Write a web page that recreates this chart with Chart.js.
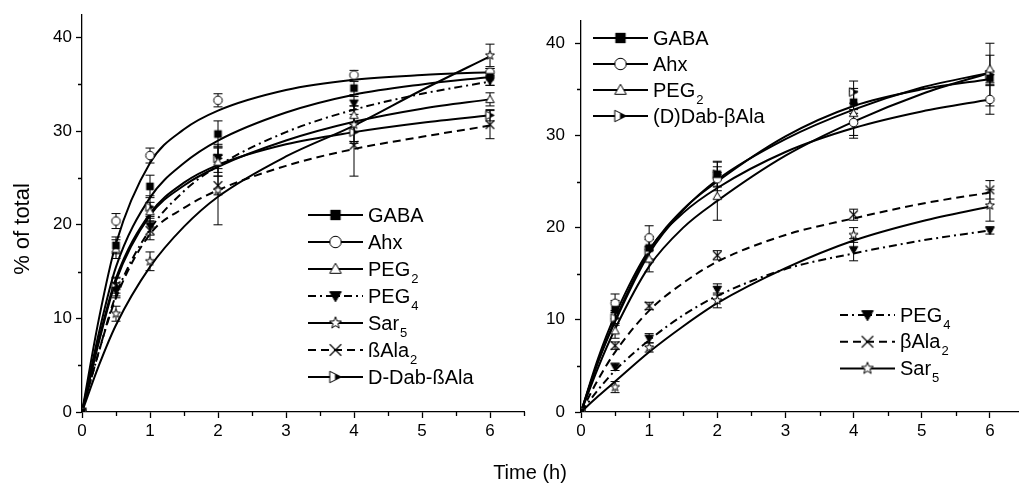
<!DOCTYPE html>
<html>
<head>
<meta charset="utf-8">
<script src="https://cdn.jsdelivr.net/npm/chart.js@4"></script>
<style>
  body { margin: 0; background: #fff; width: 1019px; height: 491px; overflow: hidden; position: relative; font-family: 'Liberation Sans', Arial, sans-serif; }
  #leftChart { position: absolute; left: 0; top: 0; }
  #rightChart { position: absolute; left: 520px; top: 0; }
  #xTitle { position: absolute; left: 480px; top: 460px; width: 100px; text-align: center; font-size: 20px; line-height: 24px; color: #000; }
</style>
</head>
<body>
<canvas id="leftChart" width="530" height="491"></canvas>
<canvas id="rightChart" width="510" height="491"></canvas>
<div id="xTitle">Time (h)</div>
<script>
// sampling times (h)
const times = [0, 0.5, 1, 2, 4, 6];
const fitTimes = [0, 0.25, 0.5, 1, 1.5, 2, 3, 4, 5, 6];
const xTickLabels = [0, 1, 2, 3, 4, 5, 6];
const yTickLabels = [0, 10, 20, 30, 40];

// --- left panel: measured means, errors, fitted curves ---
const leftGABA = [0, 17.8, 24.1, 29.7, 34.6, 35.8];
const leftGABAErr = [0, 0.9, 1.2, 1.4, 0.7, 0.9];
const leftGABAFit = [0, 8.5, 15.5, 22.9, 26.6, 29.0, 32.0, 33.9, 35.0, 35.8];

const leftAhx = [0, 20.4, 27.4, 33.3, 36.0, 36.3];
const leftAhxErr = [0, 0.8, 0.8, 0.7, 0.5, 0.4];
const leftAhxFit = [0, 10.0, 18.0, 26.6, 30.2, 32.2, 34.4, 35.5, 36.0, 36.3];

const leftPEG2 = [0, 17.4, 21.4, 26.7, 31.7, 33.4];
const leftPEG2Err = [0, 1.0, 1.0, 1.5, 1.0, 0.7];
const leftPEG2Fit = [0, 7.5, 14.0, 21.0, 24.2, 26.2, 29.0, 31.0, 32.4, 33.4];

const leftPEG4 = [0, 13.0, 19.9, 27.2, 33.0, 35.4];
const leftPEG4Err = [0, 0.8, 1.0, 1.2, 0.7, 0.5];
const leftPEG4Fit = [0, 6.5, 12.5, 19.5, 23.6, 26.3, 29.9, 32.3, 34.0, 35.3];

const leftSar5 = [0, 10.5, 16.1, 23.7, 30.7, 38.1];
const leftSar5Err = [0, 0.8, 1.0, 3.7, 2.0, 1.2];
const leftSar5Fit = [0, 5.0, 9.3, 15.5, 19.8, 23.0, 27.3, 30.6, 34.4, 38.0];

const leftBAla2 = [0, 13.5, 19.4, 24.2, 28.5, 30.7];
const leftBAla2Err = [0, 0.8, 1.0, 1.0, 3.3, 1.5];
const leftBAla2Fit = [0, 6.5, 12.2, 19.0, 21.8, 23.7, 26.3, 28.1, 29.4, 30.6];

const leftDab = [0, 13.4, 21.9, 27.1, 29.9, 31.7];
const leftDabErr = [0, 1.0, 1.2, 1.5, 1.0, 0.6];
const leftDabFit = [0, 7.8, 14.3, 21.2, 24.5, 26.4, 28.6, 29.9, 30.9, 31.7];

// --- right panel ---
const rightGABA = [0, 11.1, 17.8, 25.8, 33.6, 36.2];
const rightGABAErr = [0, 1.0, 1.2, 1.4, 1.2, 0.8];
const rightGABAFit = [0, 5.5, 10.0, 17.5, 22.0, 25.0, 29.9, 33.2, 35.0, 36.1];

const rightAhx = [0, 11.8, 18.9, 25.3, 31.4, 33.9];
const rightAhxErr = [0, 1.0, 1.3, 1.3, 1.4, 1.6];
const rightAhxFit = [0, 5.8, 10.5, 17.6, 21.6, 24.3, 28.2, 30.8, 32.6, 33.9];

const rightPEG2 = [0, 8.8, 16.6, 23.4, 32.4, 37.2];
const rightPEG2Err = [0, 0.8, 1.4, 2.6, 2.7, 1.5];
const rightPEG2Fit = [0, 4.8, 9.0, 15.8, 20.0, 22.9, 27.8, 31.5, 34.5, 36.8];

const rightDab = [0, 10.2, 17.5, 25.8, 34.7, 36.6];
const rightDabErr = [0, 0.8, 1.2, 1.3, 1.2, 3.4];
const rightDabFit = [0, 5.4, 9.8, 17.2, 21.9, 25.2, 29.6, 32.8, 35.2, 36.8];

const rightPEG4 = [0, 4.9, 8.0, 13.3, 17.6, 19.7];
const rightPEG4Err = [0, 0.4, 0.5, 0.6, 1.2, 0.4];
const rightPEG4Fit = [0, 2.4, 4.5, 7.8, 10.5, 12.6, 15.5, 17.2, 18.6, 19.7];

const rightBAla2 = [0, 7.2, 11.5, 17.0, 21.4, 24.1];
const rightBAla2Err = [0, 0.4, 0.4, 0.5, 0.6, 1.0];
const rightBAla2Fit = [0, 3.5, 6.5, 11.0, 14.0, 16.3, 19.2, 21.0, 22.6, 23.8];

const rightSar5 = [0, 2.7, 7.0, 12.1, 19.2, 22.4];
const rightSar5Err = [0, 0.6, 0.5, 0.8, 0.8, 1.7];
const rightSar5Fit = [0, 1.7, 3.3, 6.5, 9.3, 11.8, 15.6, 18.6, 20.7, 22.3];

const FONT = "'Liberation Sans', Arial, sans-serif";
const DASH = [8, 5];
const DASHDOT = [8, 4, 2, 4];

// --- marker images ---
function makeMarker(kind, s) {
    const c = document.createElement('canvas');
    const n = Math.ceil(s + 4);
    c.width = n; c.height = n;
    const g = c.getContext('2d');
    const m = n / 2, h = s / 2;
    g.lineWidth = 1;
    g.strokeStyle = '#000';
    g.fillStyle = '#fff';
    g.beginPath();
    if (kind === 'square') {
        g.fillStyle = '#000';
        g.rect(m - h * 0.9, m - h * 0.9, h * 1.8, h * 1.8);
        g.fill();
        return c;
    }
    if (kind === 'circle') {
        g.arc(m, m, h, 0, Math.PI * 2);
        g.fill(); g.stroke();
        return c;
    }
    if (kind === 'triangle') {
        g.moveTo(m, m - h); g.lineTo(m + h, m + h * 0.75); g.lineTo(m - h, m + h * 0.75); g.closePath();
        g.fill(); g.stroke();
        return c;
    }
    if (kind === 'tridown') {
        g.fillStyle = '#000';
        g.moveTo(m - h, m - h * 0.75); g.lineTo(m + h, m - h * 0.75); g.lineTo(m, m + h); g.closePath();
        g.fill(); g.stroke();
        return c;
    }
    if (kind === 'star') {
        for (let i = 0; i < 10; i++) {
            const r = i % 2 ? h * 0.45 : h + 0.5;
            const a = -Math.PI / 2 + i * Math.PI / 5;
            const px = m + r * Math.cos(a), py = m + r * Math.sin(a);
            i ? g.lineTo(px, py) : g.moveTo(px, py);
        }
        g.closePath();
        g.fill(); g.stroke();
        return c;
    }
    if (kind === 'cross') {
        g.lineWidth = 1.2;
        g.moveTo(m - h, m - h); g.lineTo(m + h, m + h);
        g.moveTo(m + h, m - h); g.lineTo(m - h, m + h);
        g.stroke();
        return c;
    }
    if (kind === 'halftri') {
        g.moveTo(m - h, m - h); g.lineTo(m + h, m); g.lineTo(m - h, m + h); g.closePath();
        g.fill();
        g.save(); g.clip();
        g.fillStyle = '#000';
        g.fillRect(m - 0.5, 0, n, n);
        g.restore();
        g.stroke();
        return c;
    }
    return c;
}

const kinds = ['square', 'circle', 'triangle', 'tridown', 'star', 'cross', 'halftri'];
const markers = {}, legendMarkers = {};
kinds.forEach(k => { markers[k] = makeMarker(k, 8.5); legendMarkers[k] = makeMarker(k, 11.5); });

const leftSeries = [
    { name: 'GABA', sub: '', marker: 'square', dash: [], mean: leftGABA, err: leftGABAErr, fit: leftGABAFit },
    { name: 'Ahx', sub: '', marker: 'circle', dash: [], mean: leftAhx, err: leftAhxErr, fit: leftAhxFit },
    { name: 'PEG', sub: '2', marker: 'triangle', dash: [], mean: leftPEG2, err: leftPEG2Err, fit: leftPEG2Fit },
    { name: 'PEG', sub: '4', marker: 'tridown', dash: DASHDOT, mean: leftPEG4, err: leftPEG4Err, fit: leftPEG4Fit },
    { name: 'Sar', sub: '5', marker: 'star', dash: [], mean: leftSar5, err: leftSar5Err, fit: leftSar5Fit },
    { name: 'ßAla', sub: '2', marker: 'cross', dash: DASH, mean: leftBAla2, err: leftBAla2Err, fit: leftBAla2Fit },
    { name: 'D-Dab-ßAla', sub: '', marker: 'halftri', dash: [], mean: leftDab, err: leftDabErr, fit: leftDabFit }
];

const rightSeries = [
    { name: 'GABA', sub: '', marker: 'square', dash: [], mean: rightGABA, err: rightGABAErr, fit: rightGABAFit },
    { name: 'Ahx', sub: '', marker: 'circle', dash: [], mean: rightAhx, err: rightAhxErr, fit: rightAhxFit },
    { name: 'PEG', sub: '2', marker: 'triangle', dash: [], mean: rightPEG2, err: rightPEG2Err, fit: rightPEG2Fit },
    { name: '(D)Dab-βAla', sub: '', marker: 'halftri', dash: [], mean: rightDab, err: rightDabErr, fit: rightDabFit },
    { name: 'PEG', sub: '4', marker: 'tridown', dash: DASHDOT, mean: rightPEG4, err: rightPEG4Err, fit: rightPEG4Fit },
    { name: 'βAla', sub: '2', marker: 'cross', dash: DASH, mean: rightBAla2, err: rightBAla2Err, fit: rightBAla2Fit },
    { name: 'Sar', sub: '5', marker: 'star', dash: [], mean: rightSar5, err: rightSar5Err, fit: rightSar5Fit }
];

function buildDatasets(series) {
    const ds = [];
    series.forEach(s => {
        ds.push({
            type: 'line',
            data: fitTimes.map((t, i) => ({ x: t, y: s.fit[i] })),
            borderColor: '#000', borderWidth: 2, borderDash: s.dash,
            pointRadius: 0, cubicInterpolationMode: 'monotone', fill: false, order: 2
        });
        ds.push({
            type: 'line', showLine: false,
            data: times.map((t, i) => ({ x: t, y: s.mean[i] })),
            pointStyle: markers[s.marker], pointRadius: 4, order: 1,
            errors: s.err
        });
    });
    return ds;
}

// --- plugins ---
const errorBars = {
    id: 'errorBars',
    beforeDatasetsDraw(chart) {
        const ctx = chart.ctx, xs = chart.scales.x, ys = chart.scales.y;
        ctx.save();
        ctx.strokeStyle = '#000';
        ctx.lineWidth = 1;
        chart.data.datasets.forEach(d => {
            if (!d.errors) return;
            d.data.forEach((p, i) => {
                const e = d.errors[i];
                if (!e) return;
                const x = xs.getPixelForValue(p.x);
                const y1 = ys.getPixelForValue(p.y + e), y2 = ys.getPixelForValue(p.y - e);
                ctx.beginPath();
                ctx.moveTo(x, y1); ctx.lineTo(x, y2);
                ctx.moveTo(x - 4.5, y1); ctx.lineTo(x + 4.5, y1);
                ctx.moveTo(x - 4.5, y2); ctx.lineTo(x + 4.5, y2);
                ctx.stroke();
            });
        });
        ctx.restore();
    }
};

const minorTicks = {
    id: 'minorTicks',
    afterDraw(chart) {
        const ctx = chart.ctx, xs = chart.scales.x, ys = chart.scales.y, a = chart.chartArea;
        ctx.save();
        ctx.strokeStyle = '#000';
        ctx.lineWidth = 1.3;
        ctx.beginPath();
        xs.ticks.forEach(t => {
            if (t.value % 0.5 === 0 && !xTickLabels.includes(t.value)) {
                const x = Math.round(xs.getPixelForValue(t.value)) + 0.5;
                ctx.moveTo(x, a.bottom); ctx.lineTo(x, a.bottom + 4);
            }
        });
        ys.ticks.forEach(t => {
            if (t.value % 5 === 0 && !yTickLabels.includes(t.value)) {
                const y = Math.round(ys.getPixelForValue(t.value)) + 0.5;
                ctx.moveTo(a.left, y); ctx.lineTo(a.left - 4, y);
            }
        });
        ctx.stroke();
        ctx.restore();
    }
};

function makeLegend(series, blocks) {
    return {
        id: 'seriesLegend',
        afterDraw(chart) {
            const ctx = chart.ctx;
            ctx.save();
            blocks.forEach(b => {
                b.items.forEach((idx, k) => {
                    const s = series[idx];
                    const y = b.y + k * b.step;
                    ctx.strokeStyle = '#000';
                    ctx.lineWidth = 2;
                    ctx.setLineDash(s.dash);
                    ctx.beginPath();
                    ctx.moveTo(b.x, y); ctx.lineTo(b.x + 55, y);
                    ctx.stroke();
                    ctx.setLineDash([]);
                    const img = legendMarkers[s.marker];
                    ctx.drawImage(img, b.x + 27.5 - img.width / 2, y - img.height / 2);
                    ctx.fillStyle = '#000';
                    ctx.textBaseline = 'middle';
                    ctx.textAlign = 'left';
                    ctx.font = '20px ' + FONT;
                    ctx.fillText(s.name, b.x + 60, y + 1);
                    if (s.sub) {
                        const w = ctx.measureText(s.name).width;
                        ctx.font = '13px ' + FONT;
                        ctx.fillText(s.sub, b.x + 61 + w, y + 10);
                    }
                });
            });
            ctx.restore();
        }
    };
}

const yTitle = {
    id: 'yTitle',
    afterDraw(chart) {
        const ctx = chart.ctx;
        ctx.save();
        ctx.translate(23, 229);
        ctx.rotate(-Math.PI / 2);
        ctx.fillStyle = '#000';
        ctx.font = '22px ' + FONT;
        ctx.textAlign = 'center';
        ctx.textBaseline = 'middle';
        ctx.fillText('% of total', 0, 0);
        ctx.restore();
    }
};

function axisOptions(yWidth, yPad) {
    return {
        x: {
            type: 'linear', min: 0, max: 6.5,
            border: { display: true, color: '#000', width: 1.3 },
            grid: {
                drawOnChartArea: false, drawTicks: true, tickLength: 6, tickWidth: 1.3,
                tickColor: c => (c.tick && xTickLabels.includes(c.tick.value)) ? '#000' : 'rgba(0,0,0,0)'
            },
            ticks: {
                stepSize: 0.5, autoSkip: false, maxRotation: 0, padding: 3,
                color: '#000', font: { family: FONT, size: 17 },
                callback: v => xTickLabels.includes(v) ? String(v) : ''
            },
            afterFit: s => { s.height = 30; }
        },
        y: {
            type: 'linear', min: 0, max: 42.5,
            border: { display: true, color: '#000', width: 1.3 },
            grid: {
                drawOnChartArea: false, drawTicks: true, tickLength: 6, tickWidth: 1.3,
                tickColor: c => (c.tick && yTickLabels.includes(c.tick.value)) ? '#000' : 'rgba(0,0,0,0)'
            },
            ticks: {
                stepSize: 5, autoSkip: false, padding: yPad,
                color: '#000', font: { family: FONT, size: 17 },
                callback: v => yTickLabels.includes(v) ? String(v) : ''
            },
            afterFit: s => { s.width = yWidth; }
        }
    };
}

function makeChart(id, series, yWidth, yPad, plugins) {
    return new Chart(document.getElementById(id), {
        type: 'line',
        data: { datasets: buildDatasets(series) },
        options: {
            responsive: false, animation: false, devicePixelRatio: 1,
            layout: { padding: { top: 13, right: 6, bottom: 49, left: 0 } },
            plugins: { legend: { display: false }, tooltip: { enabled: false } },
            scales: axisOptions(yWidth, yPad)
        },
        plugins: [errorBars, minorTicks].concat(plugins)
    });
}

makeChart('leftChart', leftSeries, 82, 4, [
    yTitle,
    makeLegend(leftSeries, [{ x: 308, y: 215, step: 27, items: [0, 1, 2, 3, 4, 5, 6] }])
]);

makeChart('rightChart', rightSeries, 61, 10, [
    makeLegend(rightSeries, [
        { x: 73, y: 38, step: 26, items: [0, 1, 2, 3] },
        { x: 320, y: 315, step: 26.7, items: [4, 5, 6] }
    ])
]);
</script>
</body>
</html>
